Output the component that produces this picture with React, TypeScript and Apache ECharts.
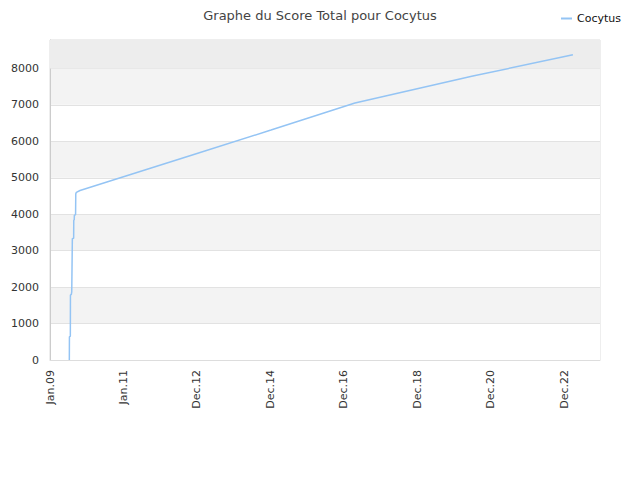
import { useEffect, useRef } from "react";
import * as echarts from "echarts";

// days counted from 1 Jan 2009
const scoreDays = [192, 193, 202, 203, 212, 216, 221, 222, 235, 236, 241, 242, 254, 256, 262, 298, 1460, 2195, 3029, 4200, 5194];
const scoreValues = [0, 640, 650, 1780, 1800, 1870, 1880, 3330, 3340, 3830, 3850, 3970, 3990, 4560, 4600, 4650, 5665, 6310, 7050, 7790, 8375];

const monthNames = ["Jan", "Feb", "Mar", "Apr", "May", "Jun", "Jul", "Aug", "Sep", "Oct", "Nov", "Dec"];
const startDate = Date.UTC(2009, 0, 1);
const dayMs = 86400000;

const formatDay = (v: number) => {
  const d = new Date(startDate + v * dayMs);
  return monthNames[d.getUTCMonth()] + "." + String(d.getUTCFullYear() % 100).padStart(2, "0");
};

const App = () => {
  const ref = useRef<HTMLDivElement | null>(null);

  useEffect(() => {
    if (!ref.current) return;
    const chart = echarts.init(ref.current, null, { renderer: "svg" });
    const font = "DejaVu Sans";

    chart.setOption({
      animation: false,
      textStyle: { fontFamily: font },
      title: {
        text: "Graphe du Score Total pour Cocytus",
        left: "center",
        top: 4,
        textStyle: { fontFamily: font, fontSize: 13, fontWeight: "normal", color: "#444" },
      },
      legend: {
        right: 14,
        top: 8,
        icon: "rect",
        itemWidth: 11,
        itemHeight: 2,
        itemGap: 10,
        textStyle: { fontFamily: font, fontSize: 11, color: "#111" },
        data: ["Cocytus"],
      },
      grid: {
        left: 50,
        right: 40,
        top: 40,
        bottom: 120,
        show: true,
        borderColor: "#dddddd",
        borderWidth: 1,
      },
      xAxis: {
        type: "value",
        min: 0,
        max: 5463,
        interval: 730,
        axisLine: { show: true, lineStyle: { color: "#dddddd" } },
        axisTick: { show: false },
        splitLine: { show: false },
        axisLabel: {
          rotate: 90,
          fontFamily: font,
          fontSize: 11,
          color: "#333",
          margin: 10,
          showMaxLabel: false,
          formatter: formatDay,
        },
      },
      yAxis: {
        type: "value",
        min: 0,
        max: 8780,
        interval: 1000,
        axisLine: { show: true, lineStyle: { color: "#cccccc" } },
        axisTick: { show: false },
        axisLabel: {
          fontFamily: font,
          fontSize: 11,
          color: "#333",
          margin: 11,
          showMaxLabel: false,
          formatter: (v: number) => String(v),
        },
        splitLine: { show: true, lineStyle: { color: "#e2e2e2" } },
        splitArea: { show: true, areaStyle: { color: ["#ffffff", "#f3f3f3"] } },
      },
      series: [
        {
          name: "Cocytus",
          type: "line",
          showSymbol: false,
          symbol: "none",
          color: "#94c4f4",
          lineStyle: { width: 1.5, color: "#94c4f4" },
          data: scoreDays.map((d, i) => [d, scoreValues[i]]),
          markArea: {
            silent: true,
            itemStyle: { color: "#ededed" },
            data: [[{ yAxis: 8000 }, { yAxis: 8780 }]],
          },
          z: 3,
        },
      ],
    });

    return () => {
      chart.dispose();
    };
  }, []);

  return <div ref={ref} style={{ position: "absolute", left: 0, top: 0, width: 640, height: 480 }} />;
};

export default App;
